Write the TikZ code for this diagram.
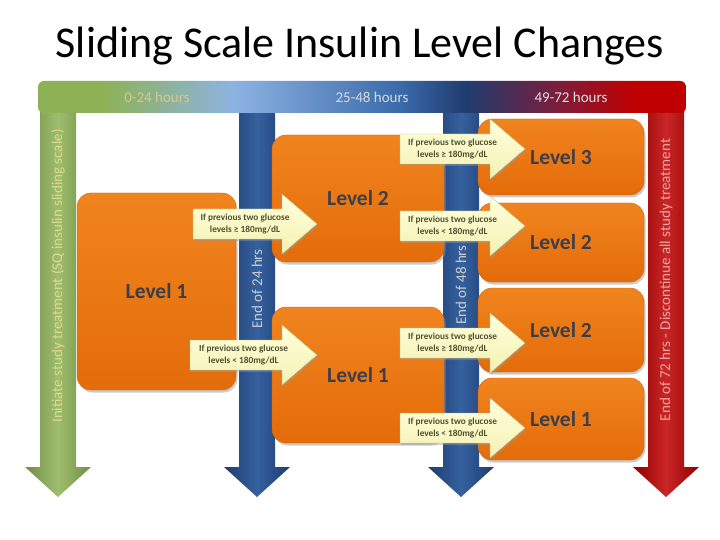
\documentclass[tikz,border=0pt]{standalone}
\usepackage{fontspec}
\setmainfont{Carlito}
\usepackage{xcolor}
\usepackage{tikz}
\usetikzlibrary{
    positioning,
    shadows
}

\definecolor{barGreen}{HTML}{8DB255}
\definecolor{barSky}{HTML}{8DB3E2}
\definecolor{barBlue}{HTML}{3A6AAA}
\definecolor{barNavy}{HTML}{1F3C70}
\definecolor{barPlum}{HTML}{7A1E3C}
\definecolor{barRed}{HTML}{C00000}
\definecolor{orangeTop}{HTML}{F0841E}
\definecolor{orangeBot}{HTML}{E46C0A}
\definecolor{orangeEdge}{HTML}{D2640E}
\definecolor{levelGray}{HTML}{3B3F4A}
\definecolor{noteTop}{HTML}{FFFFDC}
\definecolor{noteBot}{HTML}{F4F1B2}
\definecolor{noteText}{HTML}{4F4F2F}
\definecolor{hourTan}{HTML}{D8C88A}
\definecolor{initTan}{HTML}{E2D690}

\pgfdeclarehorizontalshading{timebar}{100bp}{
    color(0bp)=(barGreen); color(25bp)=(barGreen); color(30bp)=(barGreen);
    color(40bp)=(barSky); color(53bp)=(barBlue); color(58bp)=(barNavy);
    color(65bp)=(barPlum); color(71bp)=(barRed); color(100bp)=(barRed)}

\begin{document}
\begin{tikzpicture}[
    x=1pt, y=-1pt,
    greenshaft/.style={left color=barGreen!80!black, right color=barGreen!80!black, middle color=barGreen!85!white},
    blueshaft/.style={left color=barNavy, right color=barNavy, middle color=barBlue!80!barNavy},
    redshaft/.style={left color=barRed!75!black, right color=barRed!75!black, middle color=barRed!85!white},
    levelbox/.style={
        rounded corners=14pt,
        draw=orangeEdge,
        top color=orangeTop,
        bottom color=orangeBot,
        inner sep=0pt,
        text=levelGray,
        font=\fontsize{21.5}{26}\selectfont\bfseries,
        drop shadow={shadow xshift=1.5pt, shadow yshift=-2.5pt, fill=black!40, opacity=0.5}
    },
    glucosearrow/.style={
        draw=noteBot!80!black,
        top color=noteTop,
        bottom color=noteBot,
        drop shadow={shadow xshift=1pt, shadow yshift=-2pt, fill=black!40, opacity=0.4}
    },
    glucosetext/.style={
        align=center,
        text=noteText,
        inner sep=0pt,
        font=\fontsize{9.3}{12}\selectfont\bfseries
    },
    steptext/.style={
        rotate=90,
        inner sep=0pt,
        font=\fontsize{15}{18}\selectfont
    }
]

\useasboundingbox[fill=white] (0,0) rectangle (720,540);

% title
\node[anchor=base, font=\fontsize{44}{50}\selectfont] (title) at (360,58)
    {Sliding Scale Insulin Level Changes};

% time arrows
\foreach \xc/\sty in {58/greenshaft, 257/blueshaft, 461/blueshaft, 666/redshaft}
    \path[\sty] (\xc-18,100) -- (\xc+18,100) -- (\xc+18,467) -- (\xc+33,467)
        -- (\xc,497) -- (\xc-33,467) -- (\xc-18,467) -- cycle;

\node[steptext, text=initTan] (initText) at (58,276)
    {Initiate study treatment (SQ insulin sliding scale)};
\node[steptext, text=black!20] (dayOneText) at (257,289) {End of 24 hrs};
\node[steptext, text=black!20] (dayTwoText) at (461,285) {End of 48 hrs};
\node[steptext, text=barRed!35!white] (stopText) at (666,280)
    {End of 72 hrs - Discontinue all study treatment};

% time bar
\node[shading=timebar, rounded corners=6pt, minimum width=648pt, minimum height=32pt,
    inner sep=0pt] (bar) at (362,97) {};
\node[font=\fontsize{15}{18}\selectfont, text=hourTan] (hoursOne) at (157,97) {0-24 hours};
\node[font=\fontsize{15}{18}\selectfont, text=black!15] (hoursTwo) at (372,97) {25-48 hours};
\node[font=\fontsize{15}{18}\selectfont, text=black!12] (hoursThree) at (571,97) {49-72 hours};

% levels
\node[levelbox, minimum width=159pt, minimum height=197pt] (lvlOneA) at (156.5,291.5) {Level 1};
\node[levelbox, minimum width=172pt, minimum height=127pt] (lvlTwoB) at (358,198.5) {Level 2};
\node[levelbox, minimum width=172pt, minimum height=136pt] (lvlOneB) at (358,375) {Level 1};
\node[levelbox, minimum width=166pt, minimum height=76pt] (lvlThreeC) at (561,157) {Level 3};
\node[levelbox, minimum width=166pt, minimum height=79pt] (lvlTwoC) at (561,242.5) {Level 2};
\node[levelbox, minimum width=166pt, minimum height=84pt] (lvlTwoD) at (561,330) {Level 2};
\node[levelbox, minimum width=166pt, minimum height=82pt] (lvlOneC) at (561,419) {Level 1};

% glucose rules
\foreach \tail/\tip/\yc/\rel/\nm in {
    193/317/224/≥/ruleUpA, 190/317/355/</ruleDownA,
    400/525/149/≥/ruleUpB, 400/525/226/</ruleDownB,
    400/525/343/≥/ruleUpC, 400/525/428/</ruleDownC} {
    \path[glucosearrow] (\tail,\yc-15) -- (\tip-35,\yc-15) -- (\tip-35,\yc-30) -- (\tip,\yc)
        -- (\tip-35,\yc+30) -- (\tip-35,\yc+15) -- (\tail,\yc+15) -- cycle;
    \node[glucosetext] (\nm) at ({(\tail+\tip)/2-10},\yc)
        {If previous two glucose\\levels \rel{} 180mg/dL};
}

\end{tikzpicture}
\end{document}
